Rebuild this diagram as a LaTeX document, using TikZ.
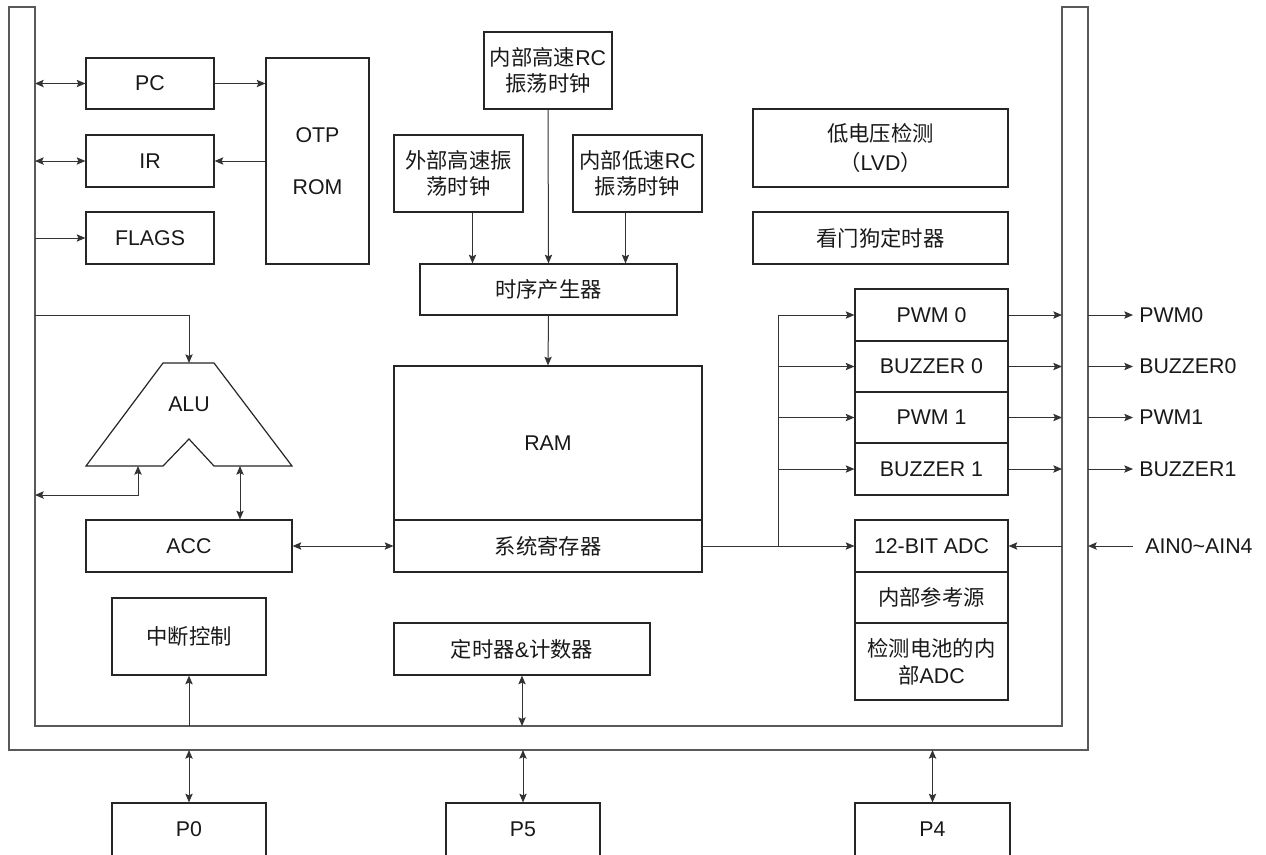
\documentclass[tikz,border=0pt]{standalone}
\usepackage{fontspec}
\setmainfont{Liberation Sans}
\newfontfamily\cjk{Noto Sans CJK SC}
\usetikzlibrary{arrows.meta,calc}
\tikzset{
  >={Stealth[length=6.5pt,width=5.5pt,inset=1.2pt]},
  box/.style={draw=black!85, line width=0.9pt, inner sep=0pt, align=center, text=black!90, font=\fontsize{16}{20}\selectfont},
  shapeline/.style={draw=black!85, line width=0.9pt},
  lbl/.style={inner sep=0pt, text=black!90, font=\fontsize{16}{20}\selectfont},
  conn/.style={draw=black!80, line width=0.75pt},
  bus/.style={draw=black!65, line width=1pt},
}
\newcommand\mybox[6]{\node[box, minimum width={(#4-#2)*0.75pt}, minimum height={(#5-#3)*0.75pt}] (#1) at ({(#2+#4)/2},{(#3+#5)/2}) {#6};}
\begin{document}
\begin{tikzpicture}[x=0.75pt,y=-0.75pt]
\useasboundingbox (0,0) rectangle (1266,854);
\fill[white] (0,0) rectangle (1266,854);
\clip (0,0) rectangle (1266,854);
% bus
\draw[bus] (9,7) -- (9,750) -- (1088,750) -- (1088,7) -- (1062,7) -- (1062,726) -- (35,726) -- (35,7) -- cycle;
\coordinate (LI) at (35,7);
\coordinate (RI) at (1062,7);
\coordinate (RO) at (1088,7);
\coordinate (BI) at (9,726);
\coordinate (BO) at (9,750);
\coordinate (olab) at (1139,0);
\coordinate (ainx) at (1145,0);

% boxes
\mybox{PC}{86}{58}{214}{109}{PC}
\mybox{IR}{86}{135}{214}{187}{IR}
\mybox{FLAGS}{86}{212}{214}{264}{FLAGS}
\mybox{OTP}{266}{58}{369}{264}{OTP\\[19pt]ROM}
\mybox{IHRC}{484}{32}{612}{109}{{\cjk 内部高速}RC\\{\cjk 振荡时钟}}
\mybox{EXT}{394}{135}{523}{212}{{\cjk 外部高速振}\\{\cjk 荡时钟}}
\mybox{ILRC}{573}{135}{702}{212}{{\cjk 内部低速}RC\\{\cjk 振荡时钟}}
\mybox{TIM}{420}{264}{677}{315}{\cjk 时序产生器}
\mybox{LVD}{753}{109}{1008}{187}{{\cjk 低电压检测}\\[2pt]{\cjk （}LVD{\cjk ）}}
\mybox{WDT}{753}{212}{1008}{264}{\cjk 看门狗定时器}
\mybox{RAM}{394}{366}{702}{520}{RAM}
\mybox{SYS}{394}{520}{702}{572}{\cjk 系统寄存器}
\mybox{ACC}{86}{520}{292}{572}{ACC}
\mybox{PWMa}{855}{289}{1008}{341}{PWM 0}
\mybox{BUZa}{855}{341}{1008}{392}{BUZZER 0}
\mybox{PWMb}{855}{392}{1008}{443}{PWM 1}
\mybox{BUZb}{855}{443}{1008}{495}{BUZZER 1}
\mybox{ADC}{855}{520}{1008}{572}{12-BIT ADC}
\mybox{REF}{855}{572}{1008}{623}{\cjk 内部参考源}
\mybox{BAT}{855}{623}{1008}{700}{{\cjk 检测电池的内}\\{\cjk 部}ADC}
\mybox{INT}{112}{598}{266}{675}{\cjk 中断控制}
\mybox{TMR}{394}{623}{650}{675}{{\cjk 定时器}\&{\cjk 计数器}}
\mybox{P0}{112}{803}{266}{856}{P0}
\mybox{P5}{446}{803}{600}{856}{P5}
\mybox{P4}{855}{803}{1010}{856}{P4}

% ALU
\draw[shapeline] (163,363) -- (214,363) -- (292,466) -- (214,466) -- (189,439) -- (163,466) -- (86,466) -- cycle;
\node[lbl] (ALU) at (189,404) {ALU};
\coordinate (ALUtop) at (189,363);
\coordinate (ALUbl) at (138,466);
\coordinate (ALUbr) at (240,466);
\coordinate (alin) at (189,315);
\coordinate (alout) at (138,495);

% connectors left
\draw[conn,<->] (PC.west -| LI) -- (PC.west);
\draw[conn,->] (PC.east) -- (PC.east -| OTP.west);
\draw[conn,->] (IR.east -| OTP.west) -- (IR.east);
\draw[conn,<->] (IR.west -| LI) -- (IR.west);
\draw[conn,->] (FLAGS.west -| LI) -- (FLAGS.west);
\draw[conn,->] (alin -| LI) -- (alin) -- (ALUtop);
\draw[conn,<->] (alout -| LI) -- (alout) -- (ALUbl);
\draw[conn,<->] (ALUbr) -- (ALUbr |- ACC.north);
\draw[conn,<->] (ACC.east) -- (SYS.west);

% clocks
\coordinate (c1) at ($(TIM.north)+(-76,0)$);
\coordinate (c2) at ($(TIM.north)+(77,0)$);
\draw[conn,->] (c1 |- EXT.south) -- (c1);
\draw[conn,->] (IHRC.south) -- (TIM.north);
\draw[conn,->] (c2 |- ILRC.south) -- (c2);
\draw[conn,->] (TIM.south) -- (RAM.north);

% right side
\coordinate (split) at (778,546);
\draw[conn,->] (SYS.east) -- (ADC.west);
\draw[conn,->] (split) |- (PWMa.west);
\draw[conn,->] (split) |- (BUZa.west);
\draw[conn,->] (split) |- (PWMb.west);
\draw[conn,->] (split) |- (BUZb.west);
\foreach \n/\l in {PWMa/PWM0, BUZa/BUZZER0, PWMb/PWM1, BUZb/BUZZER1} {
  \draw[conn,->] (\n.east) -- (\n.east -| RI);
  \node[lbl, anchor=west] (o\n) at (\n.east -| olab) {\l};
  \draw[conn,->] (\n.east -| RO) -- ([xshift=-4.5pt]o\n.west);
}
\node[lbl, anchor=west] (AIN) at (ADC.east -| ainx) {AIN0\textasciitilde AIN4};
\draw[conn,->] ([xshift=-9pt]AIN.west) -- (AIN.west -| RO);
\draw[conn,->] (ADC.east -| RI) -- (ADC.east);

% bottom
\draw[conn,->] (INT.south |- BI) -- (INT.south);
\draw[conn,<->] (TMR.south) -- (TMR.south |- BI);
\draw[conn,<->] (P0.north |- BO) -- (P0.north);
\draw[conn,<->] (P5.north |- BO) -- (P5.north);
\draw[conn,<->] (P4.north |- BO) -- (P4.north);
\end{tikzpicture}
\end{document}
